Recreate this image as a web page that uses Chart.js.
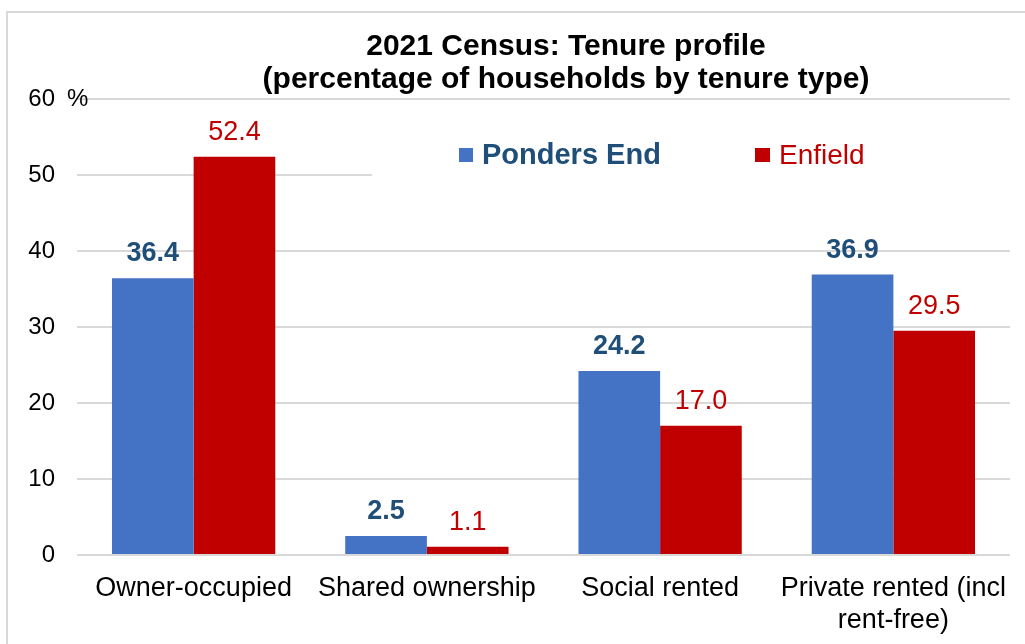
<!DOCTYPE html>
<html>
<head>
<meta charset="utf-8">
<script src="https://cdn.jsdelivr.net/npm/chart.js@4/dist/chart.umd.min.js"></script>
<style>
  body { margin: 0; background: #fff; overflow: hidden; }
  #box {
    position: absolute; left: 6px; top: 11px;
    width: 1116px; height: 631px;
    border-left: 2px solid #d9d9d9; border-top: 2px solid #d9d9d9;
  }
</style>
</head>
<body>
<div id="box"><canvas id="myChart"></canvas></div>
<script>
// categorias e valores
const categorias = ['Owner-occupied', 'Shared ownership', 'Social rented', ['Private rented (incl', 'rent-free)']];
const pondersEnd = [36.4, 2.5, 24.2, 36.9];
const enfield = [52.4, 1.1, 17.0, 29.5];
const ticksY = [0, 10, 20, 30, 40, 50, 60];
const series = ['Ponders End', 'Enfield'];

const azul = '#4472c4';
const vermelho = '#c00000';
const azulTexto = '#1f4e79';
const fonte = '"Liberation Sans", Arial, sans-serif';

// rotulos em cima das barras
const rotulos = {
  id: 'rotulos',
  afterDatasetsDraw(chart) {
    const ctx = chart.ctx;
    ctx.save();
    ctx.textAlign = 'center';
    ctx.textBaseline = 'alphabetic';
    chart.data.datasets.forEach((ds, i) => {
      const meta = chart.getDatasetMeta(i);
      ctx.font = (i === 0 ? 'bold ' : '') + '27px ' + fonte;
      ctx.fillStyle = i === 0 ? azulTexto : vermelho;
      meta.data.forEach((bar, j) => {
        ctx.fillText(ds.data[j].toFixed(1), bar.x, bar.y - 17);
      });
    });
    ctx.restore();
  }
};

// legenda dentro da area do grafico + simbolo de %
const legenda = {
  id: 'legenda',
  afterDatasetsDraw(chart) {
    const ctx = chart.ctx;
    const a = chart.chartArea;
    ctx.save();
    ctx.fillStyle = '#fff';
    ctx.fillRect(a.left + 295, a.top + 29, a.right - a.left - 295, 54);

    ctx.textBaseline = 'alphabetic';
    ctx.textAlign = 'left';
    ctx.fillStyle = azul;
    ctx.fillRect(a.left + 382, a.top + 49, 14, 14);
    ctx.font = 'bold 29px ' + fonte;
    ctx.fillStyle = azulTexto;
    ctx.fillText(series[0], a.left + 405, a.top + 65);

    ctx.fillStyle = vermelho;
    ctx.fillRect(a.left + 678, a.top + 49, 15, 14);
    ctx.font = '28px ' + fonte;
    ctx.fillText(series[1], a.left + 702, a.top + 65);

    const y = chart.scales.y;
    ctx.font = '24px ' + fonte;
    ctx.fillStyle = '#000';
    ctx.textBaseline = 'middle';
    ctx.fillText('%', 59, y.getPixelForValue(ticksY[ticksY.length - 1]));
    ctx.restore();
  }
};

const ctx = document.getElementById('myChart').getContext('2d');

const myChart = new Chart(ctx, {
  type: 'bar',
  data: {
    labels: categorias,
    datasets: [
      { label: series[0], data: pondersEnd, backgroundColor: azul },
      { label: series[1], data: enfield, backgroundColor: vermelho }
    ]
  },
  options: {
    responsive: true,
    maintainAspectRatio: false,
    animation: false,
    categoryPercentage: 0.7,
    barPercentage: 1,
    layout: { padding: 0 },
    plugins: {
      legend: { display: false },
      tooltip: { enabled: false },
      title: {
        display: true,
        text: ['2021 Census: Tenure profile', '(percentage of households by tenure type)'],
        color: '#000',
        font: { family: fonte, size: 30, weight: 'bold', lineHeight: 1.1 },
        padding: { top: 17, bottom: 3 }
      }
    },
    scales: {
      x: {
        grid: { display: false, drawTicks: false },
        border: { display: false },
        ticks: {
          color: '#000',
          padding: 17,
          maxRotation: 0,
          autoSkip: false,
          font: { family: fonte, size: 27, lineHeight: 1.2 }
        },
        afterFit(scale) { scale.height = 89; }
      },
      y: {
        min: ticksY[0],
        max: ticksY[ticksY.length - 1],
        grid: { color: '#d9d9d9', lineWidth: 2, drawTicks: false },
        border: { display: false },
        afterBuildTicks(scale) { scale.ticks = ticksY.map(v => ({ value: v })); },
        ticks: {
          color: '#000',
          padding: 22,
          font: { family: fonte, size: 24 }
        },
        afterFit(scale) { scale.width = 69; }
      },
      // espaco vazio a direita (o titulo fica centrado no quadro todo)
      direita: {
        position: 'right',
        min: ticksY[0],
        max: ticksY[ticksY.length - 1],
        grid: { display: false, drawTicks: false },
        border: { display: false },
        ticks: { display: false },
        afterFit(scale) { scale.width = 114; }
      }
    }
  },
  plugins: [rotulos, legenda]
});
</script>
</body>
</html>
